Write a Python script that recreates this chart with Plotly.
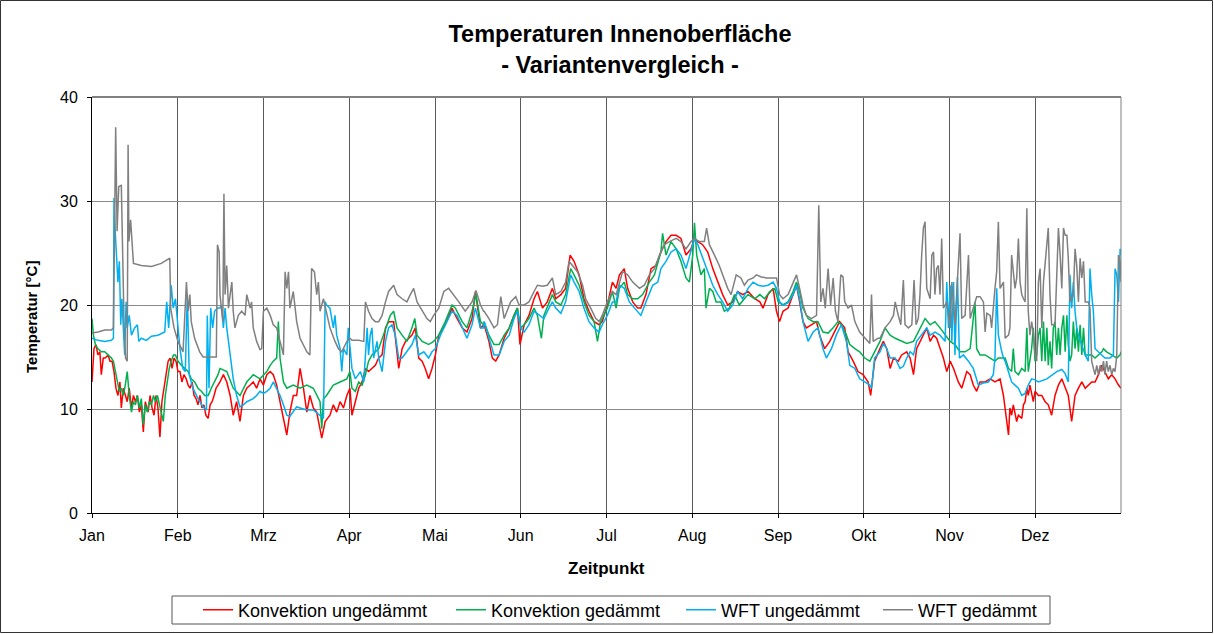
import plotly.graph_objects as go

# ---------------- data (day of year, °C) ----------------
monate = ["Jan", "Feb", "Mrz", "Apr", "Mai", "Jun", "Jul", "Aug", "Sep", "Okt", "Nov", "Dez"]

konv_ung_tag = [0.0, 0.7, 1.4, 2.1, 2.8, 3.3, 4.0, 4.7, 5.7, 6.4, 7.1, 7.8, 8.5, 9.2, 9.9, 10.4, 11.1, 11.8, 12.5, 13.2,
                14.0, 14.7, 15.4, 16.1, 16.8, 17.5, 18.2, 18.9, 19.9, 20.6, 21.3, 22.0, 22.7, 23.4, 24.1, 24.8, 25.5, 26.3,
                27.0, 27.7, 28.4, 29.1, 29.8, 30.5, 31.2, 31.9, 32.6, 33.4, 34.1, 34.8, 35.5, 36.2, 36.9, 37.6, 38.3, 39.0,
                39.7, 40.4, 41.2, 41.9, 42.6, 43.3, 44.0, 44.7,
                45.4, 46.6, 47.8, 49.0, 50.1, 51.3, 52.5, 53.7, 54.9, 56.1, 57.2, 58.4, 59.6, 60.8, 62.0, 63.2, 64.3, 65.5,
                66.7, 67.9, 69.1, 70.2, 71.4, 72.6, 73.8, 75.0, 76.2, 77.3, 78.5, 79.7, 80.9, 81.5, 82.7, 84.4, 85.6, 86.8,
                88.0, 89.2, 90.4, 91.5,
                92.2, 93.4, 94.6, 95.8, 97.0, 98.1, 99.3, 100.5, 101.7, 102.9, 104.1, 105.2, 107.0, 108.8, 110.0, 111.2,
                113.5, 114.7, 115.9, 117.1, 118.2, 119.4, 120.6, 121.8, 123.0, 125.3, 127.7, 128.9, 131.3, 133.0, 134.8,
                136.0, 137.8, 138.9,
                139.1, 140.8, 142.0, 143.2, 144.4, 146.2, 148.0, 149.7, 150.9, 151.8, 153.3, 155.0, 156.8, 158.0, 159.8,
                161.5, 163.3, 164.5, 166.3, 168.0, 169.6, 171.0, 172.8, 174.5, 176.3, 178.1, 179.9, 181.0, 182.8, 184.6,
                185.9, 187.1, 188.8, 190.0, 191.8, 193.6, 194.7, 196.5, 198.3, 200.1, 201.8, 203.6, 205.4, 207.2, 208.9,
                210.7, 212.5, 213.7, 214.9, 216.6, 218.4, 220.2, 222.0, 223.7, 225.5, 227.3, 229.0, 230.8,
                232.7, 235.1, 236.9, 238.0, 239.8, 241.6, 242.8, 243.9, 245.1, 246.9, 248.7, 249.9, 251.0, 252.2, 253.4,
                255.2, 257.0, 258.1, 259.9, 261.7, 263.5, 265.2, 267.0, 268.2, 270.0, 271.7, 273.5, 275.3, 276.2, 277.6,
                279.5, 280.7, 281.9, 283.1, 284.3, 286.0, 287.2, 289.0, 290.2, 291.4, 292.5, 294.3, 296.1, 297.3, 298.5,
                299.6, 300.8, 302.0, 303.2, 304.4, 305.6, 307.3, 308.5, 310.3, 311.5, 312.6, 313.8, 315.0, 316.8, 318.6,
                320.3, 322.1, 323.3,
                323.9, 324.5, 325.1, 325.6, 326.2, 326.8, 327.4, 328.0, 328.6, 329.8, 330.4, 331.0, 331.6, 332.1, 332.7,
                333.3, 333.9, 334.5, 335.7, 336.9, 338.1, 339.2, 340.4, 341.6, 342.8, 344.0, 345.2, 346.3, 347.5, 348.1,
                348.7, 349.9, 351.1, 352.3, 353.4, 354.6, 355.8, 357.0, 358.2, 359.3, 360.5, 361.7, 362.9, 364.1, 365.0]
konv_ung_temp = [12.6, 15.8, 16.2, 15.2, 15.5, 13.3, 14.9, 14.9, 15.2, 14.6, 14.6, 13.6, 12.0, 11.3, 12.6, 10.1, 12.0, 11.3, 10.7, 12.0,
                 10.1, 11.3, 10.7, 11.3, 9.7, 10.4, 7.8, 10.7, 9.7, 11.3, 10.1, 9.4, 11.3, 10.1, 7.3, 10.7, 12.0, 13.6,
                 14.6, 14.9, 13.9, 14.9, 14.6, 13.6, 13.6, 12.6, 13.3, 12.9, 12.3, 12.0, 12.6, 11.3, 11.0, 10.4, 11.3, 10.1,
                 10.4, 9.4, 9.1, 10.4, 10.7, 11.3, 12.0, 12.3,
                 12.6, 13.3, 12.6, 11.3, 9.4, 10.7, 8.8, 11.3, 12.0, 12.3, 12.6, 12.0, 12.9, 12.3, 13.3, 13.6, 13.3, 12.3,
                 10.7, 9.1, 7.5, 9.7, 11.3, 11.3, 13.9, 12.0, 9.7, 11.3, 10.1, 9.7, 8.1, 7.2, 8.8, 9.4, 10.4, 9.7,
                 10.7, 10.1, 11.3, 12.0,
                 9.4, 10.7, 12.0, 12.6, 13.9, 13.6, 13.9, 14.2, 14.9, 15.2, 17.8, 18.4, 18.4, 13.9, 15.8, 16.5,
                 17.1, 17.8, 14.9, 14.6, 13.9, 12.9, 13.9, 15.2, 17.1, 18.1, 19.7, 19.0, 17.8, 17.4, 18.7,
                 21.3, 17.8, 18.1,
                 18.1, 16.5, 14.9, 14.6, 15.2, 16.8, 17.8, 19.0, 19.7, 16.2, 18.1, 19.0, 20.6, 21.3, 19.7,
                 20.3, 21.6, 20.6, 21.0, 21.6, 24.8, 24.2, 22.9, 20.6, 19.4, 18.4, 18.1, 18.4, 20.0, 22.2,
                 21.6, 22.9, 23.5, 21.6, 20.3, 19.7, 19.7, 21.0, 23.5, 23.8, 25.1, 26.1, 26.7, 26.7, 26.4,
                 24.8, 25.4, 26.4, 26.1, 25.8, 25.1, 23.5, 22.2, 21.0, 20.0, 20.3, 21.3, 21.0,
                 21.3, 20.6, 20.3, 19.7, 21.0, 21.6, 19.4, 18.4, 19.4, 19.7, 21.0, 21.9, 20.3, 18.4, 17.8,
                 18.1, 18.4, 17.1, 15.8, 16.5, 17.4, 18.4, 17.8, 15.5, 14.6, 13.6, 13.3, 12.6, 11.3, 14.6,
                 15.8, 16.5, 15.8, 13.9, 14.9, 14.6, 15.2, 15.5, 14.9, 13.3, 15.8, 16.8, 17.8, 16.5, 17.1,
                 16.8, 15.8, 14.9, 13.6, 14.6, 13.9, 12.6, 12.0, 13.6, 13.3, 12.3, 11.7, 12.6, 12.6, 12.9,
                 12.6, 12.9, 11.3,
                 10.1, 8.5, 7.5, 10.1, 9.4, 10.4, 9.7, 8.8, 9.4, 9.1, 10.4, 10.7, 12.0, 11.3, 12.3,
                 11.3, 10.7, 11.7, 11.3, 11.3, 10.7, 10.4, 9.4, 11.3, 12.3, 12.9, 12.0, 11.3, 8.8, 10.1,
                 11.3, 12.0, 12.6, 12.0, 12.3, 12.6, 12.6, 13.3, 14.2, 13.6, 12.9, 13.3, 12.9, 12.3, 12.0]

konv_ged_tag = [0.0, 0.5, 1.2, 2.1, 3.3, 4.5, 5.7, 6.9, 7.6, 8.3, 9.0, 9.7, 10.4, 11.1, 11.8, 12.5, 13.2, 14.0, 14.7, 15.4,
                16.1, 16.8, 17.5, 18.2, 18.9, 19.6, 20.3, 21.1, 21.8, 22.5, 23.2, 23.9, 24.6, 25.3, 26.0, 26.7, 27.4, 28.1,
                28.9, 29.6, 30.5, 31.7, 32.9, 34.1, 35.2, 36.4, 37.6, 38.8, 40.0, 41.2, 42.3, 43.5, 44.7,
                45.4, 47.8, 50.1, 52.5, 54.9, 57.2, 59.6, 62.0, 63.2, 64.3, 65.5, 66.1, 66.7, 67.9, 69.1, 71.4, 73.8, 76.2,
                78.5, 80.9, 81.5, 82.1, 83.2, 85.6, 88.0, 90.4, 91.5,
                92.2, 93.4, 94.6, 95.8, 97.0, 98.1, 99.3, 101.7, 104.1, 105.8, 107.0, 108.2, 110.0, 111.7, 113.5, 114.5,
                115.3, 117.1, 119.4, 121.2, 123.0, 125.3, 127.7, 128.9, 131.3, 133.0, 134.8, 136.2, 137.8, 138.9,
                139.1, 140.8, 142.6, 144.4, 146.2, 148.0, 149.7, 150.9, 152.1, 153.3, 155.0, 156.8, 158.0, 159.4, 160.3,
                162.1, 163.3, 164.5, 166.3, 168.0, 169.8, 171.0, 172.8, 174.5, 176.3, 178.1, 179.3, 180.4, 182.8, 184.6,
                185.9, 187.1, 188.8, 190.0, 191.8, 193.6, 195.3, 197.7, 199.5, 201.8, 202.4, 203.6, 205.4, 207.2, 208.9,
                210.7, 211.9, 213.1, 213.7, 214.5, 216.0, 217.2, 217.8, 219.0, 220.2, 221.4, 223.1, 224.3, 226.1, 227.9,
                229.6, 231.4,
                232.7, 235.1, 236.9, 238.6, 240.4, 242.2, 243.4, 245.1, 246.9, 248.7, 249.9, 251.0, 252.2, 254.0, 255.8,
                257.5, 259.3, 261.1, 262.9, 264.6, 265.8, 267.6, 268.8, 270.6, 272.3, 274.1, 275.9, 277.6,
                279.5, 281.3, 283.1, 284.9, 286.6, 289.0, 291.4, 292.5, 294.3, 295.5, 297.3, 299.0, 300.8, 302.6, 304.4,
                306.1, 307.9, 309.7, 311.5, 313.2, 313.8, 315.0, 316.8, 318.6, 320.3, 321.5, 323.3,
                323.9, 325.1, 326.2, 326.8, 327.4, 328.6, 329.8, 331.0, 331.6, 332.1, 333.3, 333.9, 334.5, 335.1, 335.7,
                336.3, 336.9, 337.5, 338.1, 338.7, 339.2, 339.8, 340.4, 341.0, 341.6, 342.2, 342.8, 343.4, 344.0, 344.6,
                345.2, 345.8, 346.3, 346.9, 347.5, 348.1, 348.7, 349.3, 349.9, 350.5, 351.1, 351.7, 352.3, 353.4, 354.6,
                355.8, 357.0, 358.2, 358.8, 359.9, 361.7, 363.5, 364.7, 365.0]
konv_ged_temp = [18.7, 17.1, 16.2, 15.8, 15.5, 15.5, 15.2, 14.9, 14.6, 13.6, 12.6, 11.7, 12.0, 11.3, 12.3, 13.6, 11.3, 9.7, 10.7, 10.4,
                 11.3, 10.1, 11.0, 8.5, 10.4, 9.7, 10.7, 10.4, 11.3, 10.7, 11.3, 10.4, 9.7, 8.8, 11.3, 12.9, 13.9, 14.6,
                 15.2, 15.2, 14.6, 14.2, 13.9, 13.6, 12.9, 12.6, 12.0, 11.7, 11.3, 11.3, 12.0, 12.6, 13.3,
                 13.9, 13.6, 12.0, 11.3, 12.6, 13.3, 12.9, 13.6, 14.2, 14.6, 14.9, 18.4, 14.9, 12.6, 12.0, 12.3, 12.0, 12.3,
                 12.0, 10.7, 8.1, 11.0, 11.3, 12.3, 12.6, 12.9, 13.6,
                 12.0, 11.7, 12.6, 12.3, 13.3, 14.6, 15.2, 15.8, 17.8, 19.0, 19.4, 17.8, 17.1, 16.5, 17.8, 18.7,
                 17.1, 16.5, 16.2, 16.5, 17.1, 18.4, 20.0, 19.7, 18.4, 17.8, 19.4, 21.0, 18.4, 18.1,
                 18.4, 17.1, 16.2, 16.2, 17.1, 17.8, 19.0, 19.7, 17.8, 18.1, 18.7, 19.7, 19.0, 16.8, 19.0,
                 20.3, 21.0, 20.3, 20.0, 21.0, 23.5, 22.9, 21.9, 20.3, 19.0, 18.4, 16.5, 18.4, 19.7, 21.3,
                 19.7, 21.6, 22.2, 21.0, 20.6, 20.6, 21.0, 22.2, 22.9, 25.1, 26.9, 24.8, 26.1, 25.4, 24.2,
                 22.6, 22.2, 24.8, 27.9, 24.8, 22.9, 23.5, 19.7, 21.6, 21.3, 20.3, 20.3, 19.4, 19.7, 21.0,
                 20.0, 20.6,
                 21.0, 20.6, 21.0, 20.6, 21.3, 21.6, 20.3, 20.0, 20.3, 21.3, 22.2, 21.3, 19.7, 18.7, 18.4,
                 18.4, 17.4, 17.3, 17.8, 18.4, 18.1, 17.1, 16.2, 15.8, 15.5, 14.9, 14.6, 15.5,
                 16.5, 17.8, 17.1, 16.8, 16.6, 16.3, 16.5, 17.1, 18.1, 18.7, 18.1, 18.4, 17.8, 17.1, 16.5,
                 16.2, 15.5, 15.5, 15.8, 20.3, 15.8, 15.2, 15.2, 14.9, 14.6, 14.9, 14.9,
                 14.9, 13.9, 13.6, 15.8, 13.6, 13.3, 13.9, 13.6, 17.8, 13.6, 15.8, 17.8, 14.6, 15.2, 17.1,
                 17.8, 14.6, 18.4, 14.6, 17.8, 14.2, 16.5, 13.9, 17.8, 18.4, 15.2, 17.8, 15.2, 17.8, 19.0,
                 15.5, 19.0, 16.2, 14.6, 15.2, 18.4, 15.8, 17.8, 15.5, 18.1, 15.2, 17.8, 15.2, 15.2, 15.2,
                 14.9, 15.2, 15.5, 15.8, 15.5, 15.2, 14.9, 15.2, 15.5]

wft_ung_tag = [0.0, 2.1, 4.5, 6.9, 7.6, 7.8, 8.3, 8.8, 9.2, 9.7, 10.2, 10.6, 11.1, 11.6, 12.1, 12.5, 13.2, 14.0, 15.1, 16.1,
               16.6, 17.5, 19.3, 21.1, 23.4, 25.8, 26.5, 27.2, 28.1, 28.8, 29.6, 30.3, 31.2, 32.2, 33.1, 33.8, 34.5, 35.8,
               37.6, 39.4, 40.6, 40.9, 41.5, 42.1, 42.8, 43.5, 44.5,
               45.4, 46.0, 46.6, 47.2, 47.8, 48.4, 49.0, 50.1, 51.3, 52.5, 53.7, 54.9, 57.2, 58.4, 59.6, 60.8, 62.0, 63.2,
               64.3, 65.5, 66.7, 67.9, 69.1, 70.2, 71.4, 72.6, 73.8, 76.2, 78.5, 80.9, 82.1, 82.7, 83.2, 84.4, 85.6, 86.2,
               86.8, 88.0, 88.6, 89.2, 90.4, 90.9,
               92.2, 93.4, 95.2, 96.4, 97.6, 98.1, 98.7, 99.3, 99.9, 101.1, 101.7, 102.9, 104.1, 105.2, 106.4, 107.6,
               108.8, 110.0, 111.7, 113.5, 114.7, 115.9, 117.7, 119.4, 120.6, 121.8, 123.6, 125.3, 127.7, 129.5, 131.3,
               133.0, 134.8, 136.0, 137.8, 138.9,
               139.1, 140.8, 142.6, 144.4, 146.2, 148.0, 149.7, 150.9, 152.1, 153.3, 155.0, 156.8, 158.6, 160.3, 162.1,
               163.3, 164.5, 166.3, 168.0, 169.8, 171.0, 172.8, 174.5, 176.3, 178.1, 179.9, 181.0, 182.8, 184.6,
               185.9, 187.1, 188.8, 190.6, 192.4, 194.7, 196.5, 198.9, 200.7, 201.8, 203.6, 205.4, 207.2, 208.9, 210.7,
               212.5, 213.7, 214.9, 216.6, 218.4, 220.2, 222.0, 223.7, 225.5, 227.3, 229.0, 230.8,
               232.7, 234.5, 236.3, 238.0, 239.8, 241.6, 242.8, 243.9, 245.1, 246.9, 248.7, 249.9, 251.0, 252.2, 254.0,
               255.8, 257.5, 259.3, 260.5, 262.3, 264.0, 265.8, 267.6, 268.8, 270.6, 272.3, 274.1, 275.9, 276.5, 277.6,
               279.5, 280.7, 281.9, 283.1, 284.9, 286.6, 287.8, 289.0, 290.2, 291.4, 292.5, 294.3, 296.1, 297.3, 299.0,
               300.8, 302.6, 303.2, 303.8, 304.4, 305.0, 305.6, 306.1, 307.0, 307.7, 309.1, 310.9, 312.6, 314.4, 316.2,
               318.0, 319.7, 320.3, 320.9, 321.5, 322.7, 323.3,
               323.9, 325.1, 326.2, 327.4, 328.6, 329.8, 331.0, 332.1, 333.3, 334.5, 335.7, 338.7, 342.2, 344.0, 345.2,
               346.3, 346.9, 347.5, 348.1, 348.7, 349.3, 349.9, 351.1, 352.3, 353.4, 354.0, 354.6, 355.2, 355.8, 357.0,
               358.2, 359.3, 361.1, 362.3, 362.9, 363.5, 364.1, 364.7, 365.0]
wft_ung_temp = [16.8, 16.6, 16.5, 16.6, 16.8, 30.3, 26.7, 23.5, 22.2, 24.2, 18.1, 20.6, 17.8, 15.2, 20.3, 17.8, 19.0, 17.1, 17.8, 18.1,
                16.5, 16.8, 16.6, 17.0, 17.1, 17.4, 20.3, 17.8, 21.9, 19.7, 20.6, 18.1, 15.8, 13.9, 13.6, 21.0, 13.3, 12.0,
                11.0, 10.2, 9.9, 19.0, 12.0, 19.7, 17.8, 19.4, 19.7,
                19.7, 20.0, 17.8, 19.7, 17.8, 16.5, 15.2, 12.9, 11.3, 10.2, 10.4, 10.7, 11.0, 11.3, 11.7, 11.5, 11.7, 12.0,
                12.6, 12.0, 11.3, 10.4, 9.4, 9.3, 9.7, 10.2, 10.1, 9.9, 9.9, 9.4, 9.1, 20.3, 20.0, 19.7, 17.8, 19.0,
                17.1, 15.8, 13.6, 15.8, 15.2, 17.8,
                13.9, 12.9, 13.6, 12.6, 17.8, 15.2, 17.1, 17.8, 14.9, 16.5, 14.9, 13.6, 16.5, 17.8, 18.1, 17.1,
                14.9, 14.9, 15.5, 16.2, 17.1, 15.2, 15.5, 14.9, 15.5, 15.8, 17.1, 18.1, 19.4, 19.0, 17.8,
                16.8, 18.1, 19.7, 17.8, 17.8,
                18.4, 16.8, 15.2, 15.2, 16.5, 17.1, 18.7, 19.4, 17.8, 17.4, 18.1, 19.4, 19.0, 18.7, 19.7,
                20.3, 19.7, 19.2, 20.3, 22.9, 22.2, 21.3, 19.7, 18.4, 17.8, 17.4, 18.1, 19.0, 20.3,
                20.3, 21.9, 21.6, 20.3, 19.7, 19.0, 20.3, 21.9, 22.2, 23.5, 24.2, 25.1, 25.4, 24.8, 23.5,
                25.1, 26.4, 25.8, 24.5, 23.2, 21.9, 21.0, 20.3, 19.4, 20.0, 21.3, 20.6,
                21.6, 22.2, 21.9, 21.8, 21.9, 22.2, 21.6, 20.3, 20.0, 20.2, 21.0, 21.9, 20.6, 18.4, 16.5,
                17.4, 17.8, 15.8, 14.9, 15.8, 17.1, 18.1, 16.5, 14.2, 13.9, 12.9, 12.6, 12.3, 12.0, 14.9,
                15.5, 16.3, 15.8, 14.9, 14.9, 13.9, 14.1, 14.9, 15.5, 15.2, 16.5, 17.1, 17.8, 17.1, 17.4,
                17.1, 16.5, 22.2, 17.8, 21.9, 16.5, 22.2, 15.2, 22.7, 14.9, 15.2, 14.6, 13.9, 12.3, 12.5,
                12.6, 13.3, 14.9, 21.6, 17.1, 15.5, 14.9,
                14.6, 13.6, 12.6, 12.3, 12.0, 11.3, 11.5, 12.3, 12.9, 12.8, 12.6, 12.9, 13.6, 13.8, 13.4,
                12.6, 22.9, 19.7, 22.2, 19.4, 17.8, 17.1, 16.2, 15.2, 14.6, 23.5, 21.0, 19.4, 15.8, 15.5,
                15.2, 14.9, 14.9, 15.2, 23.5, 22.9, 20.3, 25.4, 24.8]

wft_ged_tag = [0.0, 2.1, 4.5, 6.9, 7.6, 7.8, 8.4, 8.9, 9.5, 10.4, 10.9, 11.4, 11.9, 12.5, 12.8, 13.1, 13.7, 14.2, 14.7, 17.5,
               21.1, 24.6, 27.6, 27.9, 29.1, 30.5, 32.3, 33.5, 34.1, 34.7, 35.2, 36.4, 38.2, 39.4, 44.1, 44.5, 45.1,
               45.4, 46.4, 46.8, 47.2, 47.8, 48.4, 49.0, 49.6, 50.1, 50.7, 51.9, 53.1, 54.3, 54.9, 56.1, 56.6, 57.2, 58.4,
               59.6, 60.2, 60.8, 62.0, 63.2, 64.3, 65.5, 66.7, 67.9, 68.5, 69.1, 69.7, 70.2, 71.4, 72.0, 72.6, 73.8, 76.2,
               77.3, 77.9, 78.9, 79.7, 80.3, 80.9, 82.1, 83.2, 84.4, 86.2, 87.4, 88.6, 90.4, 91.5,
               92.2, 94.6, 96.4, 97.0, 98.1, 99.3, 100.5, 101.7, 102.9, 104.1, 105.2, 107.0, 108.2, 110.0, 111.7, 112.9,
               114.1, 115.3, 117.1, 118.8, 120.0, 121.2, 123.0, 124.8, 126.5, 128.3, 130.1, 132.4, 134.8, 136.2, 137.8,
               138.9,
               139.1, 140.8, 142.6, 143.8, 145.0, 146.2, 147.3, 148.5, 150.3, 151.5, 153.3, 155.0, 156.8, 158.0, 159.8,
               161.5, 163.3, 164.5, 166.3, 168.0, 169.2, 170.4, 172.2, 174.0, 175.1, 176.9, 178.7, 179.9, 181.0, 182.8,
               184.6,
               185.9, 187.1, 188.2, 190.0, 191.8, 194.2, 195.9, 197.7, 199.5, 201.3, 203.0, 204.8, 207.2, 208.9, 210.7,
               212.5, 213.7, 215.4, 217.2, 218.0, 219.0, 220.8, 222.5, 223.7, 225.5, 226.7, 228.5, 230.2, 231.4,
               232.7, 234.5, 235.7, 237.4, 239.2, 241.0, 242.8, 243.9, 245.1, 246.9, 248.7, 249.9, 251.0, 252.2, 253.4,
               255.2, 257.0, 257.8, 258.5, 259.3, 260.1, 261.1, 262.0, 262.9, 263.7, 264.6, 265.6, 266.4, 267.0, 268.2,
               269.4, 270.6, 272.3, 274.1, 275.9, 276.5, 277.1, 278.8,
               279.5, 281.3, 283.1, 284.3, 284.9, 286.0, 286.9, 287.8, 288.4, 289.6, 290.8, 291.6, 292.3, 293.1, 293.7,
               294.3, 294.9, 295.5, 296.1, 297.3, 297.9, 298.5, 299.0, 299.6, 300.2, 300.8, 301.4, 302.0, 303.2, 304.4,
               305.0, 306.1, 307.9, 308.5, 309.7, 310.9, 311.5, 312.6, 313.8, 315.0, 316.2, 316.8, 317.4, 318.6, 319.1,
               320.3, 320.9, 321.5, 322.1, 323.3,
               323.9, 325.1, 325.6, 326.2, 326.8, 327.4, 328.0, 328.6, 329.2, 329.8, 330.4, 331.0, 331.6, 332.1, 332.7,
               333.3, 333.9, 334.5, 335.1, 335.7, 336.3, 336.9, 337.5, 338.1, 338.7, 339.2, 339.8, 340.4, 341.6, 342.2,
               342.8, 343.4, 344.0, 344.6, 345.2, 345.8, 346.3, 346.9, 347.5, 348.1, 348.7, 349.3, 349.9, 350.5, 351.1,
               351.7, 352.3, 353.4, 354.0, 354.6, 355.2, 355.8, 356.4, 357.0, 357.6, 358.2, 358.8, 359.3, 359.9, 360.5,
               361.1, 361.7, 362.3, 362.9, 363.5, 364.1, 364.7, 365.0]
wft_ged_temp = [17.3, 17.4, 17.6, 17.6, 17.8, 23.5, 37.1, 27.1, 31.4, 31.5, 24.2, 17.8, 14.9, 14.6, 35.4, 26.1, 28.2, 26.1, 24.0, 23.8,
                23.7, 24.0, 24.5, 19.7, 17.8, 16.5, 15.5, 22.2, 19.4, 21.0, 18.4, 16.8, 15.5, 15.0, 15.0, 25.8, 25.1,
                21.0, 18.4, 30.7, 21.0, 23.8, 19.7, 21.0, 22.2, 19.4, 17.8, 19.0, 19.4, 19.0, 21.0, 19.7, 20.3, 17.8, 16.5,
                15.7, 15.8, 19.4, 19.7, 19.0, 18.1, 17.8, 16.5, 15.2, 23.2, 21.6, 23.2, 19.7, 21.3, 20.0, 18.4, 16.8, 15.5,
                15.2, 23.5, 23.2, 21.0, 22.2, 19.4, 20.6, 19.4, 17.8, 16.5, 15.8, 15.5, 16.5, 16.8,
                16.6, 16.6, 16.5, 20.3, 19.4, 18.7, 18.4, 18.4, 19.0, 20.3, 21.3, 21.9, 21.0, 20.6, 20.3, 21.0,
                21.6, 20.3, 19.4, 18.7, 18.4, 19.0, 19.7, 21.3, 21.6, 21.0, 20.3, 19.4, 20.3, 21.4, 20.0,
                19.4,
                19.4, 18.7, 17.8, 18.1, 20.8, 18.7, 19.4, 20.3, 20.8, 20.0, 20.0, 20.3, 21.3, 21.9, 21.8,
                21.9, 22.6, 21.0, 21.3, 22.2, 24.2, 23.8, 23.2, 21.9, 20.6, 19.7, 18.7, 18.4, 19.0, 20.3,
                21.3,
                21.0, 22.2, 23.2, 22.9, 22.2, 21.6, 21.9, 22.9, 23.5, 24.8, 25.8, 26.1, 26.4, 26.1, 25.4,
                26.1, 26.4, 26.1, 26.1, 27.4, 25.8, 24.8, 23.8, 22.9, 21.6, 21.0, 22.9, 22.6, 21.9,
                22.4, 22.6, 22.9, 22.7, 22.6, 22.6, 22.6, 21.0, 20.6, 21.0, 22.2, 22.9, 21.6, 20.0, 19.0,
                18.7, 19.0, 29.6, 20.3, 21.6, 19.7, 23.5, 20.0, 22.6, 19.4, 18.4, 22.9, 22.7, 20.3, 19.7,
                20.0, 18.4, 17.4, 16.8, 16.3, 21.0, 16.5, 16.8,
                16.8, 17.8, 18.4, 19.0, 20.3, 19.0, 18.1, 22.4, 18.1, 17.8, 18.1, 22.4, 18.1, 18.7, 21.0,
                24.8, 27.4, 28.0, 21.6, 20.6, 24.8, 25.1, 21.0, 23.5, 23.8, 21.0, 26.4, 19.7, 20.3, 17.8,
                22.2, 18.1, 26.9, 18.7, 19.0, 24.8, 18.7, 19.7, 20.8, 20.8, 20.3, 17.4, 19.2, 19.0, 17.8,
                21.6, 23.2, 28.0, 21.6, 22.2,
                16.8, 17.1, 17.8, 24.8, 22.9, 21.6, 22.6, 26.4, 22.2, 21.0, 20.6, 20.3, 29.3, 19.4, 17.1,
                18.4, 17.4, 15.2, 14.6, 22.2, 23.5, 17.8, 22.2, 24.2, 25.4, 27.4, 21.0, 18.1, 18.1, 22.6,
                27.4, 24.8, 21.6, 27.4, 26.7, 26.7, 24.5, 20.3, 20.6, 21.0, 25.4, 23.8, 20.3, 24.5, 22.6,
                24.2, 20.3, 20.3, 19.7, 14.6, 13.9, 13.3, 14.2, 13.3, 14.2, 13.6, 14.6, 13.3, 14.6, 13.6,
                14.2, 13.3, 13.9, 13.6, 15.2, 24.8, 24.2, 22.2]

# ---------------- figure ----------------
W, H = 1214, 634
L, R, T, B = 92, 1121, 97, 513          # plot area in pixels
pw, ph = R - L, B - T


def px_x(p):
    return (p - L) / pw


def px_y(p):
    return (B - p) / ph


font_family = "Arial, Liberation Sans, Helvetica, sans-serif"

serien = [
    ("Konvektion ungedämmt", konv_ung_tag, konv_ung_temp, "#FF0000", 208),
    ("Konvektion gedämmt", konv_ged_tag, konv_ged_temp, "#00B050", 185),
    ("WFT ungedämmt", wft_ung_tag, wft_ung_temp, "#00B0F0", 152),
    ("WFT gedämmt", wft_ged_tag, wft_ged_temp, "#808080", 130),
]

fig = go.Figure()
for name, xs, ys, col, lw in serien:
    fig.add_trace(go.Scatter(x=xs, y=ys, mode="lines", name=name,
                             line=dict(color=col, width=1.5), legendwidth=lw))

tick_pos = [k * 365 / 12 for k in range(12)]

fig.update_layout(
    width=W, height=H,
    margin=dict(l=L, r=W - R, t=T, b=H - B, autoexpand=False),
    paper_bgcolor="white", plot_bgcolor="white",
    font=dict(family=font_family, color="black"),
    title=dict(text="<b>Temperaturen Innenoberfläche<br>- Variantenvergleich -</b>",
               x=620 / W, xanchor="center", xref="container",
               y=1 - 42 / H, yanchor="middle", yref="container",
               font=dict(size=23.5, family=font_family, color="black")),
    showlegend=True,
    legend=dict(orientation="h", x=px_x(198), xanchor="left", y=px_y(610), yanchor="middle",
                font=dict(size=18, family=font_family, color="black"),
                bgcolor="rgba(0,0,0,0)", borderwidth=0, traceorder="normal"),
    xaxis=dict(range=[0, 365], tickmode="array", tickvals=tick_pos, ticktext=monate,
               showgrid=True, gridcolor="#5a5a5a", gridwidth=1, zeroline=False,
               showline=True, linecolor="black", linewidth=1,
               ticks="outside", ticklen=4, tickcolor="black", ticklabelstandoff=4,
               tickfont=dict(size=16, family=font_family, color="black")),
    yaxis=dict(range=[0, 40], tick0=0, dtick=10,
               showgrid=True, gridcolor="#8a8a8a", gridwidth=1, zeroline=False,
               showline=True, linecolor="black", linewidth=1,
               ticks="outside", ticklen=4, tickcolor="black", ticklabelstandoff=6,
               tickfont=dict(size=16, family=font_family, color="black")),
    annotations=[
        dict(text="<b>Zeitpunkt</b>", xref="paper", yref="paper", x=px_x(606), y=px_y(568),
             xanchor="center", yanchor="middle", showarrow=False,
             font=dict(size=17, family=font_family, color="black")),
        dict(text="<b>Temperatur [°C]</b>", xref="paper", yref="paper", x=px_x(31), y=px_y(317),
             xanchor="center", yanchor="middle", showarrow=False, textangle=-90,
             font=dict(size=15, family=font_family, color="black")),
    ],
    shapes=[
        # top and right border of the plot area
        dict(type="line", xref="paper", yref="paper", x0=0, x1=1, y0=1, y1=1,
             line=dict(color="#808080", width=2)),
        dict(type="line", xref="paper", yref="paper", x0=1, x1=1, y0=0, y1=1,
             line=dict(color="#808080", width=1)),
        # legend frame
        dict(type="rect", xref="paper", yref="paper", x0=px_x(172), x1=px_x(1050),
             y0=px_y(624), y1=px_y(596), line=dict(color="#555555", width=1)),
        # outer chart frame
        dict(type="rect", xref="paper", yref="paper", x0=px_x(0.5), x1=px_x(W - 1.5),
             y0=px_y(H - 1.5), y1=px_y(0.5), line=dict(color="#333333", width=1)),
    ],
)

fig.write_html("out.html", config={"displayModeBar": False},
               post_script="document.body.style.margin='0px';")
